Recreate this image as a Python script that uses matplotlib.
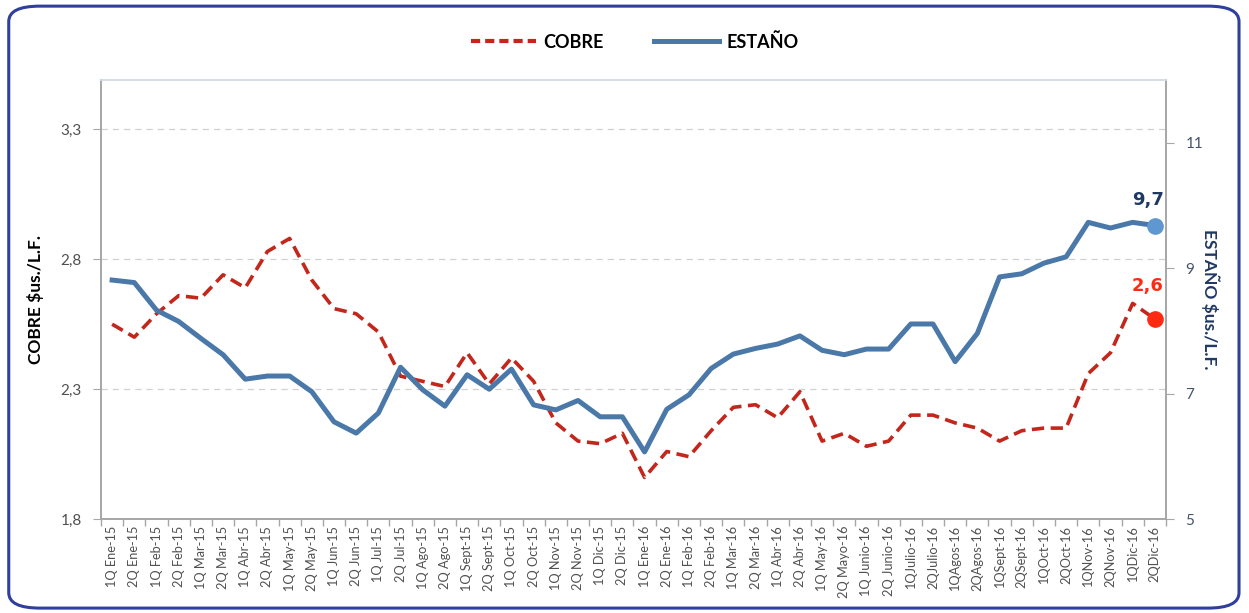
import matplotlib

matplotlib.use("Agg")
import matplotlib.pyplot as plt
import numpy as np
from matplotlib.lines import Line2D
from matplotlib.patches import FancyBboxPatch

plt.rcParams["font.family"] = ["Lato", "DejaVu Sans"]

periods = [
    "1Q Ene-15", "2Q Ene-15", "1Q Feb-15", "2Q Feb-15", "1Q Mar-15", "2Q Mar-15",
    "1Q Abr-15", "2Q Abr-15", "1Q May-15", "2Q May-15", "1Q Jun-15", "2Q Jun-15",
    "1Q Jul-15", "2Q Jul-15", "1Q Ago-15", "2Q Ago-15", "1Q Sept-15", "2Q Sept-15",
    "1Q Oct-15", "2Q Oct-15", "1Q Nov-15", "2Q Nov-15", "1Q Dic-15", "2Q Dic-15",
    "1Q Ene-16", "2Q Ene-16", "1Q Feb-16", "2Q Feb-16", "1Q Mar-16", "2Q Mar-16",
    "1Q Abr-16", "2Q Abr-16", "1Q May-16", "2Q Mayo-16", "1Q Junio-16", "2Q Junio-16",
    "1QJulio-16", "2QJulio-16", "1QAgos-16", "2QAgos-16", "1QSept-16", "2QSept-16",
    "1QOct-16", "2QOct-16", "1QNov-16", "2QNov-16", "1QDic-16", "2QDic-16",
]

cobre = [
    2.55, 2.50, 2.59, 2.66, 2.65, 2.74, 2.69, 2.83, 2.88, 2.72, 2.61, 2.59,
    2.52, 2.35, 2.33, 2.31, 2.44, 2.32, 2.42, 2.33, 2.17, 2.10, 2.09, 2.13,
    1.96, 2.06, 2.04, 2.14, 2.23, 2.24, 2.19, 2.29, 2.10, 2.13, 2.08, 2.10,
    2.20, 2.20, 2.17, 2.15, 2.10, 2.14, 2.15, 2.15, 2.36, 2.44, 2.63, 2.57,
]

estano = [
    8.81, 8.77, 8.33, 8.15, 7.88, 7.62, 7.23, 7.28, 7.28, 7.03, 6.55, 6.37,
    6.69, 7.42, 7.06, 6.80, 7.30, 7.07, 7.39, 6.82, 6.74, 6.89, 6.63, 6.63,
    6.07, 6.75, 6.98, 7.40, 7.63, 7.72, 7.79, 7.92, 7.69, 7.62, 7.71, 7.71,
    8.11, 8.11, 7.51, 7.96, 8.86, 8.91, 9.08, 9.18, 9.73, 9.64, 9.73, 9.68,
]

cobre_ticks = [1.8, 2.3, 2.8, 3.3]
estano_ticks = [5, 7, 9, 11]

red = "#c3261b"
blue = "#4a78a9"
navy = "#1f3864"
tick_gray = "#505050"
axis_gray = "#a6a6a6"

fig = plt.figure(figsize=(12.49, 6.13), dpi=100)
fig.patch.set_facecolor("white")

# rounded blue frame around the whole picture
frame = FancyBboxPatch(
    (0.007, 0.008), 0.985, 0.982,
    boxstyle="round,pad=0,rounding_size=0.025",
    transform=fig.transFigure, facecolor="none",
    edgecolor="#2e3f9e", linewidth=2.2, zorder=0,
)
fig.patches.append(frame)

ax = fig.add_axes([0.0809, 0.1533, 0.8526, 0.7162])
ax2 = ax.twinx()

x = np.arange(len(periods))

ax.plot(x, cobre, color=red, linestyle=(0, (3.4, 1.8)), linewidth=2.6, zorder=3)
ax2.plot(x, estano, color=blue, linewidth=3.6, solid_joinstyle="round", zorder=3)

# end point markers and labels
ax.plot(x[-1], cobre[-1], "o", color="#ff2a12", markersize=11, zorder=4)
ax2.plot(x[-1], estano[-1], "o", color="#5f97d0", markersize=11, zorder=4)
ax.annotate(
    f"{cobre[-1]:.1f}".replace(".", ","), (x[-1], cobre[-1]),
    xytext=(-5, 20), textcoords="offset points", ha="center",
    color="#ff2a12", fontsize=13, fontweight="bold", fontfamily="DejaVu Sans",
)
ax2.annotate(
    f"{estano[-1]:.1f}".replace(".", ","), (x[-1], estano[-1]),
    xytext=(-5, 15), textcoords="offset points", ha="center",
    color=navy, fontsize=13, fontweight="bold", fontfamily="DejaVu Sans",
)

ax.set_xlim(-0.5, len(periods) - 0.5)
ax.set_ylim(1.8, 3.49)
ax2.set_ylim(5, 12)

ax.set_yticks(cobre_ticks)
ax.set_yticklabels([f"{t:.1f}".replace(".", ",") for t in cobre_ticks])
ax2.set_yticks(estano_ticks)
ax2.set_yticklabels([str(t) for t in estano_ticks])

ax.set_xticks(x)
ax.set_xticklabels(periods, rotation=90, fontsize=9.2, color=tick_gray)
ax.set_xticks(np.arange(-0.5, len(periods)), minor=True)
ax.tick_params(axis="x", which="major", length=0, pad=5)
ax.tick_params(axis="x", which="minor", length=5, color=axis_gray, width=1)

ax.tick_params(axis="y", length=6, color=axis_gray, labelsize=11, labelcolor=tick_gray, pad=8)
ax2.tick_params(axis="y", length=6, color=axis_gray, labelsize=11, labelcolor="#44546a", pad=8)

ax.grid(axis="y", color="#d0d0d0", linestyle=(0, (5, 4)), linewidth=0.9)

for a in (ax, ax2):
    a.spines["left"].set_color(axis_gray)
    a.spines["right"].set_color(axis_gray)
    a.spines["bottom"].set_color(axis_gray)
    a.spines["top"].set_color("#d6dde6")
    for s in a.spines.values():
        s.set_linewidth(1.2)

ax.set_ylabel("COBRE $us./L.F.", fontsize=12.5, fontweight="bold", color="black", labelpad=12)
ax2.set_ylabel("ESTAÑO $us./L.F.", fontsize=12.5, fontweight="bold", color=navy,
               rotation=270, labelpad=12)

handles = [
    Line2D([], [], color=red, linestyle=(0, (2.2, 1.2)), linewidth=3),
    Line2D([], [], color=blue, linewidth=3.6),
]
fig.legend(
    handles, ["COBRE", "ESTAÑO"], loc="center", bbox_to_anchor=(0.508, 0.932),
    ncol=2, frameon=False, handlelength=3.6, columnspacing=2.8, handletextpad=0.4,
    prop={"weight": "bold", "size": 13},
)

fig.savefig("out.png", dpi=100)
